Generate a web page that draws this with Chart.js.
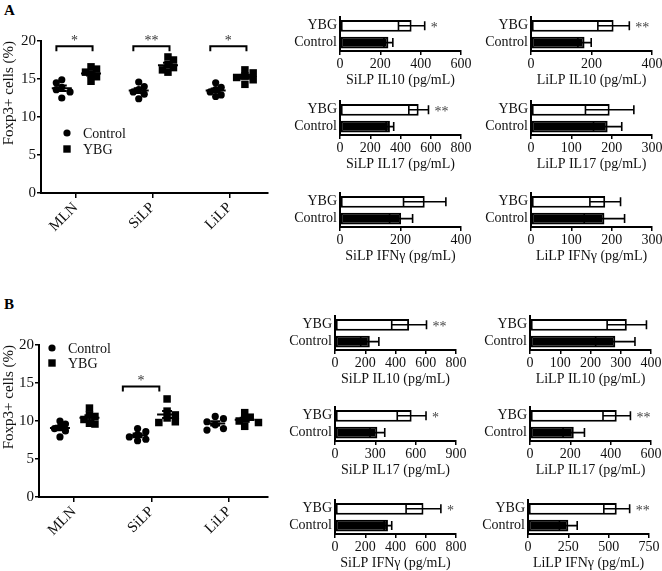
<!DOCTYPE html>
<html><head><meta charset="utf-8">
<script src="https://cdn.jsdelivr.net/npm/chart.js@4.4.1/dist/chart.umd.min.js"></script>
<style>
html,body{margin:0;padding:0;background:#fff;}
#wrap{position:relative;width:662px;height:571px;overflow:hidden;background:#fff;}
canvas{position:absolute;}
.lab{position:absolute;font:bold 15px 'Liberation Serif','Times New Roman',serif;color:#000;}
</style></head><body>
<div id="wrap">
<div class="lab" style="left:4px;top:2px">A</div>
<div class="lab" style="left:4px;top:296px">B</div>
</div>
<script>
// ---------- DATA ----------
const sites = ['MLN', 'SiLP', 'LiLP'];
const groups = ['Control', 'YBG'];
const foxTicks = [0, 5, 10, 15, 20];
// Panel A: Foxp3+ cells (%), one value per mouse, per site
const aControl = [[14.9, 14.5, 13.9, 13.6, 13.3, 12.5], [14.6, 14.0, 13.6, 13.3, 13.0, 12.4], [14.5, 13.9, 13.6, 13.3, 12.9, 12.7]];
const aYBG     = [[16.6, 16.3, 15.9, 15.6, 15.3, 14.7], [17.9, 17.5, 16.9, 16.5, 16.2, 15.9], [16.2, 15.8, 15.4, 15.2, 14.9, 14.3]];
const aSig = ['*', '**', '*'];
// Panel B
const bControl = [[10.0, 9.6, 9.2, 9.0, 8.7, 7.9], [9.0, 8.6, 8.2, 7.9, 7.6, 7.4], [10.6, 10.3, 9.9, 9.5, 9.0, 8.8]];
const bYBG     = [[11.7, 10.8, 10.6, 10.2, 9.7, 9.6], [12.9, 11.3, 10.8, 10.4, 9.9, 9.8], [11.1, 10.5, 10.3, 10.0, 9.8, 9.3]];
const bSig = ['', '*', ''];

// Cytokine bar charts: [YBG, Control] mean and SEM (pg/mL), rows IL10, IL17, IFNγ
const barGroups = ['YBG', 'Control'];
const cytokines = ['IL10', 'IL17', 'IFNγ'];
const aSilpMean = [[355, 240], [520, 330], [280, 202]];
const aSilpSem  = [[65, 22], [65, 25], [70, 38]];
const aSilpSig  = ['*', '**', ''];
const aSilpTicks = [[0, 200, 400, 600], [0, 200, 400, 600, 800], [0, 200, 400]];
const aLilpMean = [[273, 177], [195, 190], [184, 182]];
const aLilpSem  = [[52, 22], [60, 35], [38, 50]];
const aLilpSig  = ['**', '', ''];
const aLilpTicks = [[0, 200, 400], [0, 100, 200, 300], [0, 100, 200, 300]];
const bSilpMean = [[490, 230], [570, 315], [585, 350]];
const bSilpSem  = [[115, 60], [107, 55], [115, 25]];
const bSilpSig  = ['**', '*', '*'];
const bSilpTicks = [[0, 200, 400, 600, 800], [0, 300, 600, 900], [0, 200, 400, 600, 800]];
const bLilpMean = [[320, 282], [430, 217], [550, 250]];
const bLilpSem  = [[65, 65], [68, 53], [80, 55]];
const bLilpSig  = ['', '**', '**'];
const bLilpTicks = [[0, 100, 200, 300, 400], [0, 200, 400, 600], [0, 250, 500, 750]];

// ---------- STYLE / LAYOUT ----------
const FONT = "'Liberation Serif', 'Times New Roman', serif";
Chart.defaults.font.family = FONT;
Chart.defaults.color = '#111';
const wrap = document.getElementById('wrap');

function mkCanvas(left, top, w, h) {
  const c = document.createElement('canvas');
  c.width = w; c.height = h;
  c.style.left = left + 'px'; c.style.top = top + 'px';
  c.style.width = w + 'px'; c.style.height = h + 'px';
  wrap.appendChild(c);
  return c;
}

// error bars + significance for horizontal bars
const barExtras = {
  id: 'barExtras',
  afterDatasetsDraw(chart, args, opts) {
    const {ctx} = chart;
    const x = chart.scales.x;
    const data = chart.data.datasets[0].data;
    const meta = chart.getDatasetMeta(0);
    ctx.save();
    ctx.strokeStyle = '#000';
    ctx.lineWidth = 1.6;
    let sigX = null, sigY = null;
    meta.data.forEach((bar, i) => {
      const m = data[i], s = opts.sems[i];
      const x1 = x.getPixelForValue(m - s), x2 = x.getPixelForValue(m + s);
      const cy = bar.y, h = 9;
      ctx.beginPath();
      ctx.moveTo(x1, cy); ctx.lineTo(x2, cy);
      ctx.moveTo(x1, cy - h / 2); ctx.lineTo(x1, cy + h / 2);
      ctx.moveTo(x2, cy - h / 2); ctx.lineTo(x2, cy + h / 2);
      ctx.stroke();
      if (i === 0) { sigX = x2; sigY = cy; }
    });
    if (opts.sig) {
      ctx.fillStyle = '#444';
      ctx.font = '14px ' + FONT;
      ctx.textAlign = 'left';
      ctx.textBaseline = 'middle';
      ctx.fillText(opts.sig, sigX + 6, sigY + 3);
    }
    ctx.restore();
  }
};

function barChart(axisX, axisY, site, cyt, means, sems, sig, ticks) {
  const YW = 74, PW = 121, PH = 41, PT = 4, PR = 18, XH = 38;
  const W = YW + PW + PR, H = PT + PH + XH;
  const c = mkCanvas(axisX - YW, axisY - PH - PT, W, H);
  new Chart(c, {
    type: 'bar',
    data: {
      labels: barGroups,
      datasets: [{
        data: means,
        backgroundColor: ['#fff', '#000'],
        borderColor: '#000',
        borderWidth: 2,
        borderSkipped: false,
        barPercentage: 0.7,
        categoryPercentage: 1
      }]
    },
    options: {
      indexAxis: 'y', responsive: false, animation: false, devicePixelRatio: 1,
      layout: {padding: {top: PT, right: PR, left: 0, bottom: 0}},
      plugins: {legend: {display: false}, tooltip: {enabled: false}, barExtras: {sems, sig}},
      scales: {
        x: {
          type: 'linear', position: 'bottom', min: ticks[0], max: ticks[ticks.length - 1],
          afterBuildTicks: s => { s.ticks = ticks.map(v => ({value: v})); },
          afterFit: s => { s.height = XH; },
          ticks: {font: {size: 14}, color: '#111', padding: 1, maxRotation: 0, autoSkip: false},
          grid: {drawOnChartArea: false, drawTicks: true, tickLength: 4, color: '#000', lineWidth: 1.5},
          border: {color: '#000', width: 2},
          title: {display: true, text: site + ' ' + cyt + ' (pg/mL)', font: {size: 14}, color: '#111', padding: 0}
        },
        y: {
          afterFit: s => { s.width = YW; },
          ticks: {font: {size: 14}, color: '#111', padding: 3, autoSkip: false},
          grid: {display: false, drawTicks: false, tickLength: 0},
          border: {color: '#000', width: 2}
        }
      }
    },
    plugins: [barExtras]
  });
}

// deterministic horizontal spreading of overlapping dots (dot-plot layout)
function spread(vals, center, pxX, pxY, gap) {
  const order = vals.map((v, i) => i).sort((a, b) => vals[b] - vals[a]);
  const placed = [], out = new Array(vals.length);
  const step = 0.5 * gap / pxX;
  order.forEach(i => {
    const v = vals[i];
    for (let k = 0; k < 40; k++) {
      const off = k === 0 ? 0 : (k % 2 ? 1 : -1) * Math.ceil(k / 2) * step;
      const x = center + off;
      if (placed.every(p => Math.abs(p.x - x) * pxX >= gap || Math.abs(p.y - v) * pxY >= gap)) {
        placed.push({x, y: v}); out[i] = {x, y: v}; break;
      }
    }
  });
  return out;
}

const mean = a => a.reduce((s, v) => s + v, 0) / a.length;
const sem = a => { const m = mean(a); return Math.sqrt(a.reduce((s, v) => s + (v - m) * (v - m), 0) / (a.length - 1)) / Math.sqrt(a.length); };

const foxExtras = {
  id: 'foxExtras',
  afterDatasetsDraw(chart, args, o) {
    const {ctx} = chart;
    const x = chart.scales.x, y = chart.scales.y, ca = chart.chartArea;
    ctx.save();
    ctx.strokeStyle = '#000';
    ctx.lineWidth = 2;
    [o.ctrl, o.ybg].forEach((set, g) => {
      set.forEach((vals, i) => {
        const cx = x.getPixelForValue(i + o.offsets[g]);
        const m = mean(vals), s = sem(vals);
        const ym = y.getPixelForValue(m), y1 = y.getPixelForValue(m - s), y2 = y.getPixelForValue(m + s);
        ctx.beginPath();
        ctx.moveTo(cx - 10, ym); ctx.lineTo(cx + 10, ym);
        ctx.moveTo(cx, y1); ctx.lineTo(cx, y2);
        ctx.moveTo(cx - 5, y1); ctx.lineTo(cx + 5, y1);
        ctx.moveTo(cx - 5, y2); ctx.lineTo(cx + 5, y2);
        ctx.stroke();
      });
    });
    // significance brackets
    o.sig.forEach((s, i) => {
      if (!s) return;
      const x1 = x.getPixelForValue(i + o.bracket[0]), x2 = x.getPixelForValue(i + o.bracket[1]);
      const yt = y.getPixelForValue(o.bracketLevel);
      ctx.beginPath();
      ctx.moveTo(x1, yt + 5); ctx.lineTo(x1, yt); ctx.lineTo(x2, yt); ctx.lineTo(x2, yt + 5);
      ctx.stroke();
      ctx.fillStyle = '#333';
      ctx.font = '14px ' + FONT;
      ctx.textAlign = 'center';
      ctx.textBaseline = 'middle';
      ctx.fillText(s, (x1 + x2) / 2, yt - 5);
    });
    // legend
    const lx = ca.left + o.legend.dx, ly = ca.top + o.legend.dy;
    ctx.fillStyle = '#000';
    ctx.beginPath(); ctx.arc(lx, ly, 3.6, 0, Math.PI * 2); ctx.fill();
    ctx.fillRect(lx - 3.7, ly + o.legend.gap - 3.7, 7.4, 7.4);
    ctx.fillStyle = '#111';
    ctx.font = '14px ' + FONT;
    ctx.textAlign = 'left';
    ctx.textBaseline = 'middle';
    chart.data.datasets.forEach((d, g) => ctx.fillText(d.label, lx + 16, ly + g * o.legend.gap + 1));
    ctx.restore();
  }
};

function foxChart(canvasTop, geom, ctrl, ybg, sig, annot) {
  const XH = 50, PR = 6;
  const W = geom.right + PR, H = geom.bottom - canvasTop + XH;
  const c = mkCanvas(0, canvasTop, W, H);
  const xmin = -0.45, xmax = 2.5;
  const pxX = (geom.right - geom.left) / (xmax - xmin);
  const pxY = (geom.bottom - geom.top) / (foxTicks[foxTicks.length - 1] - foxTicks[0]);
  const offsets = [-0.18, 0.2];
  const ptsC = [], ptsY = [];
  ctrl.forEach((vals, i) => ptsC.push(...spread(vals, i + offsets[0], pxX, pxY, 5.5)));
  ybg.forEach((vals, i) => ptsY.push(...spread(vals, i + offsets[1], pxX, pxY, 5.5)));
  new Chart(c, {
    type: 'scatter',
    data: {
      datasets: [
        {label: groups[0], data: ptsC, pointStyle: 'circle', pointRadius: 3.6, backgroundColor: '#000', borderWidth: 0},
        {label: groups[1], data: ptsY, pointStyle: 'rect', pointRadius: 5.3, backgroundColor: '#000', borderWidth: 0}
      ]
    },
    options: {
      responsive: false, animation: false, devicePixelRatio: 1,
      layout: {padding: {top: geom.top - canvasTop, right: PR, left: 0, bottom: 0}},
      plugins: {
        legend: {display: false}, tooltip: {enabled: false},
        foxExtras: Object.assign({ctrl, ybg, sig, offsets}, annot)
      },
      scales: {
        x: {
          type: 'linear', min: xmin, max: xmax,
          afterBuildTicks: s => { s.ticks = sites.map((n, i) => ({value: i})); },
          afterFit: s => { s.height = XH; },
          ticks: {callback: v => sites[v], font: {size: 15}, color: '#111', minRotation: 45, maxRotation: 45, padding: 1, autoSkip: false},
          grid: {drawOnChartArea: false, drawTicks: true, tickLength: 5, color: '#000', lineWidth: 1.5},
          border: {color: '#000', width: 2}
        },
        y: {
          min: foxTicks[0], max: foxTicks[foxTicks.length - 1],
          afterBuildTicks: s => { s.ticks = foxTicks.map(v => ({value: v})); },
          afterFit: s => { s.width = geom.left; },
          ticks: {font: {size: 15}, color: '#111', padding: 1},
          grid: {drawOnChartArea: false, drawTicks: true, tickLength: 4, color: '#000', lineWidth: 1.5},
          border: {color: '#000', width: 2},
          title: {display: true, text: 'Foxp3+ cells (%)', font: {size: 15}, color: '#111', padding: 0, align: 'end'}
        }
      }
    },
    plugins: [foxExtras]
  });
}

// ---------- BUILD ----------
foxChart(0, {left: 41, right: 268, top: 41, bottom: 193}, aControl, aYBG, aSig,
  {bracket: [-0.25, 0.22], bracketLevel: 19.3, legend: {dx: 26, dy: 92, gap: 16}});
foxChart(300, {left: 39, right: 268, top: 345, bottom: 497}, bControl, bYBG, bSig,
  {bracket: [-0.37, 0.1], bracketLevel: 14.55, legend: {dx: 13, dy: 3, gap: 15}});

const rowsA = [51, 135, 227], rowsB = [350, 441, 534];
cytokines.forEach((cyt, r) => {
  barChart(340, rowsA[r], 'SiLP', cyt, aSilpMean[r], aSilpSem[r], aSilpSig[r], aSilpTicks[r]);
  barChart(531, rowsA[r], 'LiLP', cyt, aLilpMean[r], aLilpSem[r], aLilpSig[r], aLilpTicks[r]);
  barChart(335, rowsB[r], 'SiLP', cyt, bSilpMean[r], bSilpSem[r], bSilpSig[r], bSilpTicks[r]);
  barChart(r === 2 ? 528 : 530, rowsB[r], 'LiLP', cyt, bLilpMean[r], bLilpSem[r], bLilpSig[r], bLilpTicks[r]);
});
</script>
</body></html>
